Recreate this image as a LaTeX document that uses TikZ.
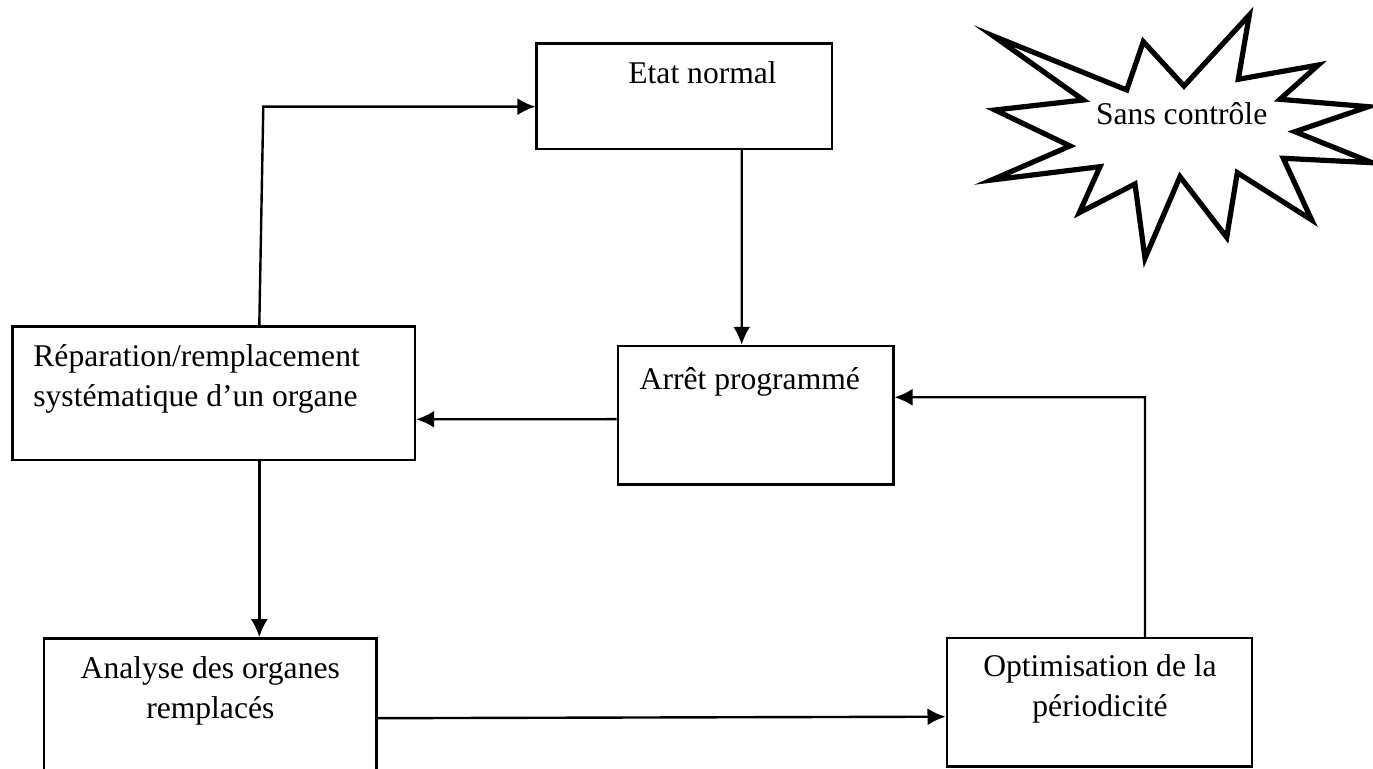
\documentclass[tikz,border=0pt]{standalone}
\usepackage{fontspec}
\setmainfont{Liberation Serif}
\usetikzlibrary{arrows.meta,calc}

\begin{document}
\begin{tikzpicture}[x=0.5pt,y=-0.5pt,
  box/.style={draw=black,line width=1.2pt,inner sep=0pt,fill=white},
  txt/.style={inner sep=0pt,font=\fontsize{15.8}{20}\selectfont},
  arr/.style={line width=1.2pt,-{Latex[length=9pt,width=8.5pt]}},
  burst/.style={draw=black,line width=2.6pt,line join=miter}]
  \useasboundingbox (0,0) rectangle (1373,769);
  % boxes
  \node[box,minimum width=147.7pt,minimum height=52.8pt] (etat) at (684.3,96.2) {};
  \node[box,minimum width=201.3pt,minimum height=66.7pt] (rep) at (213.7,393.3) {};
  \node[box,minimum width=137.8pt,minimum height=69.2pt] (arret) at (755.5,415.2) {};
  \node[box,minimum width=166.3pt,minimum height=75.8pt] (analyse) at (210.3,714.2) {};
  \node[box,minimum width=152.5pt,minimum height=64.2pt] (optim) at (1099.2,702.5) {};
  % texts (base = last line)
  \node[txt,anchor=base west] (etat-t) at (628,84) {Etat normal};
  \node[txt,anchor=base west,align=left] (rep-t) at (33,406.7)
    {Réparation/remplacement\\systématique d’un organe};
  \node[txt,anchor=base west] (arret-t) at (639.3,390) {Arrêt programmé};
  \node[txt,anchor=base,align=center] (analyse-t) at (210.3,718.3)
    {Analyse des organes\\remplacés};
  \node[txt,anchor=base,align=center] (optim-t) at (1100,716.7)
    {Optimisation de la\\périodicité};
  % star
  \draw[burst] (993.3,36) -- (1126.7,90) -- (1143.3,41.7) -- (1184,86)
    -- (1249.3,15) -- (1238.3,79.3) -- (1318.3,65) -- (1280,99.3)
    -- (1368.3,106.7) -- (1295,131.7) -- (1372,162.7) -- (1283.3,158.3)
    -- (1311.7,220) -- (1237.3,172.7) -- (1226.7,237.3) -- (1180,176.7)
    -- (1145,258.3) -- (1135,184) -- (1079.3,212.7) -- (1100,166.7)
    -- (991.7,180) -- (1070,146) -- (995,110) -- (1083.3,100) -- cycle;
  \node[txt,anchor=base] (sans) at (1181.7,125) {Sans contrôle};
  % connectors
  \coordinate (k1) at (263.3,106.7);
  \coordinate (k2) at (1145,397.3);
  \draw[arr] ([xshift=22.8pt]rep.north) -- (k1) -- (etat.west |- k1);
  \draw[arr] ([xshift=28.7pt]etat.south) -- ([xshift=-6.9pt]arret.north);
  \draw[arr] ([yshift=-2pt]arret.west) -- ([yshift=-13pt]rep.east);
  \draw[arr] ([xshift=22.8pt]rep.south) -- ([xshift=24.5pt]analyse.north);
  \draw[arr] ([yshift=-2pt]analyse.east) -- ([yshift=-7.1pt]optim.west);
  \draw[arr] ([xshift=22.9pt]optim.north) -- (k2) -- (arret.east |- k2);
\end{tikzpicture}
\end{document}
